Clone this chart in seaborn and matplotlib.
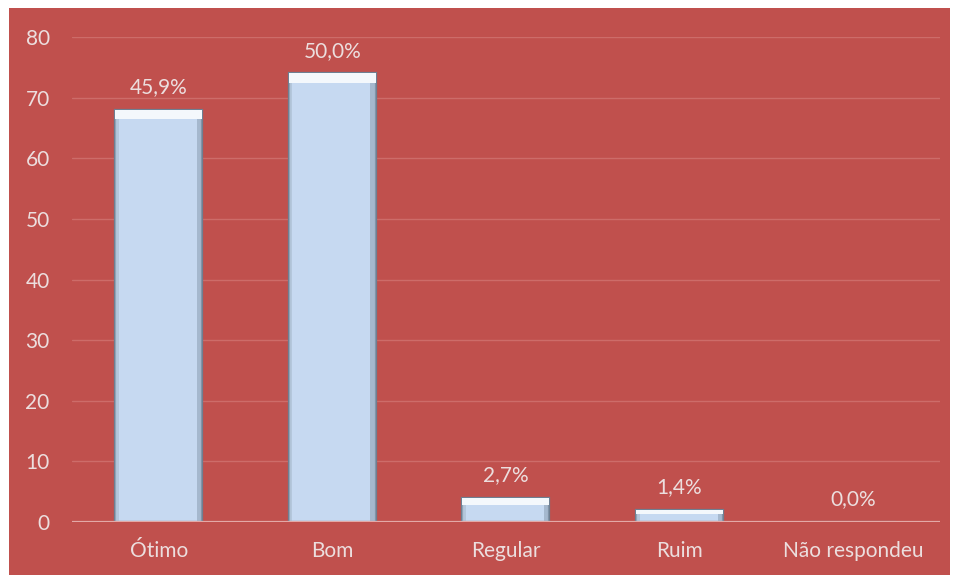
import matplotlib
matplotlib.use("Agg")
import matplotlib.pyplot as plt
import matplotlib.patches as mpatches
import pandas as pd
import seaborn as sns

categorias = ["Ótimo", "Bom", "Regular", "Ruim", "Não respondeu"]
respostas = [68, 74, 4, 2, 0]
percentuais = ["45,9%", "50,0%", "2,7%", "1,4%", "0,0%"]

df = pd.DataFrame({"categoria": categorias, "respostas": respostas})

fundo = "#C0504D"
texto = "#ECDEDE"

sns.set_theme(style="white")
plt.rcParams["font.family"] = ["Lato", "DejaVu Sans"]

fig = plt.figure(figsize=(9.59, 5.81), dpi=100)
fig.patch.set_facecolor("white")
# faixa vermelha por tras do grafico
fig.patches.append(mpatches.Rectangle((9 / 959, 6 / 581), 941 / 959, 567 / 581,
                                      transform=fig.transFigure, facecolor=fundo,
                                      edgecolor="none", zorder=-10))
ax = fig.add_axes([0.075, 0.1015, 0.905, 0.8348])
ax.set_facecolor(fundo)

sns.barplot(data=df, x="categoria", y="respostas", color="#C6D9F1", width=0.5,
            saturation=1, edgecolor="#6E7F92", linewidth=1.6, ax=ax, zorder=3)

# brilho no topo das barras (efeito chanfrado)
for p in list(ax.patches):
    x0, y0 = p.get_x(), p.get_y()
    w, h = p.get_width(), p.get_height()
    if h <= 0:
        continue
    bev = min(1.6, h * 0.3)
    ax.add_patch(mpatches.Rectangle((x0, y0 + h - bev), w, bev, facecolor="#F4F8FC",
                                    edgecolor="none", zorder=4))
    ax.add_patch(mpatches.Rectangle((x0 + w * 0.94, y0), w * 0.06, h - bev, facecolor="#8FA3B8",
                                    edgecolor="none", alpha=0.6, zorder=4))
    ax.add_patch(mpatches.Rectangle((x0, y0), w * 0.04, h - bev, facecolor="#A9BBCE",
                                    edgecolor="none", alpha=0.6, zorder=4))

for i, (v, s) in enumerate(zip(respostas, percentuais)):
    ax.annotate(s, (i, v), xytext=(0, 9), textcoords="offset points",
                ha="center", va="bottom", color=texto, fontsize=15)

ax.set_ylim(0, 80)
ax.set_yticks(range(0, 81, 10))
ax.set_xlim(-0.5, 4.5)
ax.yaxis.grid(True, color="#CD6C69", linewidth=1)
ax.set_axisbelow(True)
for s in ax.spines.values():
    s.set_visible(False)
ax.axhline(0, color="#E3A9A7", linewidth=1.6, zorder=5)

ax.set_xlabel("")
ax.set_ylabel("")
ax.tick_params(axis="both", length=0, colors=texto, labelsize=15)
ax.tick_params(axis="y", pad=16)
ax.tick_params(axis="x", pad=14)

fig.savefig("out.png", dpi=100)
